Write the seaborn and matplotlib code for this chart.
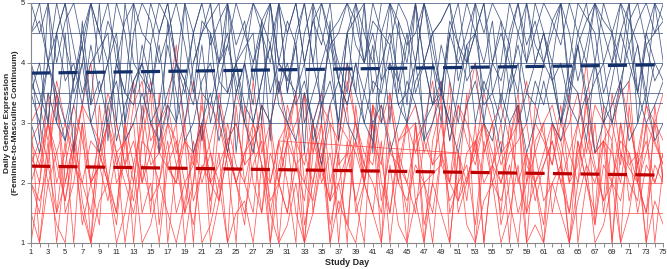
import numpy as np
import pandas as pd
import seaborn as sns
import matplotlib.pyplot as plt

sns.set_style("white")
plt.rcParams["font.family"] = ["Liberation Sans", "DejaVu Sans"]

days = list(range(1, 76))

# masculine-leaning participants (navy), one string per person, "-" = no entry
navy_rows = [
    "4.5 5 4 4.5 5 3.5 4 5 4.5 4 5 4.5 3.5 4 5 "
    "4.5 5 4 3.5 4.5 5 5 4 4.5 3.5 4 5 4.5 4 5 "
    "3.5 4.5 5 4 5 4.5 4 3.5 5 4.5 4 5 5 4.5 4 "
    "5 4 4.5 3.5 4.5 5 4 4.5 5 3.5 4 5 4.5 4 5 "
    "4.5 4 5 3.5 4.5 5 4 5 4.5 4 5 3.5 4.5 5 4",
    "3.5 4 3 4.5 3.7 4 3.3 4.3 3.5 4 4.5 3 3.7 4 3.5 "
    "4.3 3 4 3.7 4.5 3.5 3.3 4 4.3 3.7 3 4 4.5 3.5 4 "
    "3.7 4.3 3 3.5 4 4.5 3.7 3.3 4 3.5 4.3 3 4 3.7 4.5 "
    "3.5 4 3.3 4.3 3.7 3 4 4.5 3.5 4 3.7 4.3 3 3.5 4 "
    "4.5 3.7 4 3.3 4.3 3.5 4 3 3.7 4.5 4 3.5 4.3 3.7 4",
    "3 2.5 3.5 3 2.7 3.3 4 3 2.5 3.3 3.7 2.7 3 3.5 3 "
    "2.7 3.3 3 3.7 2.5 3 3.5 2.7 3.3 4 3 2.5 3.3 3 3.7 "
    "3 2.7 3.5 3 2.3 3.3 3.7 3 2.7 3.5 3 3.3 2.5 3 3.7 "
    "3.3 2.7 3 3.5 3 2.5 3.3 3.7 3 2.7 3.5 3 3.3 2.5 3 "
    "3.7 3 2.7 3.3 3 3.5 2.5 3 3.3 3.7 2.7 3 3.5 2.7 3",
    "5 4.5 5 4 4.7 5 4.3 5 4.5 5 4 4.7 5 4.5 4.3 "
    "5 4.7 4 5 4.5 5 4.3 4.7 5 4 4.5 5 4.7 4.3 5 "
    "4.5 5 4 4.7 5 4.3 4.5 5 4.7 4 5 4.5 4.3 5 4.7 "
    "4 5 4.5 4.7 5 4.3 4 5 4.5 5 4.7 4.3 5 4 4.5 "
    "5 4.7 4.3 5 4.5 4 5 4.7 4.5 5 4.3 4.7 5 4.5 5",
    "4 - 3 4.5 5 - 3.5 4 - 4.5 3 5 4 - 3.5 "
    "4.5 5 - 3 4 4.5 - 5 3.5 4 - 4.5 3 5 4 "
    "- 3.5 4.5 5 - 4 3 4.5 - 5 3.5 4 4.5 - 3 "
    "4 5 - 3.5 4.5 4 - 5 3 4 4.5 - 3.5 5 4 "
    "4.5 - 3 4 5 - 4.5 3.5 4 - 5 3 4.5 4 -",
    "3.5 3 4 3.3 2.7 3.7 4.3 3 3.5 4 2.7 3.3 3.7 4 3 "
    "3.3 4.3 3.5 2.7 3 3.7 4 3.3 2.5 3.5 4 3 3.7 4.3 3.3 "
    "3 3.5 4 2.7 3.3 3.7 3 4.5 3.5 3 2.7 3.7 4 3.3 3.5 "
    "4 3 3.3 3.7 2.7 3.5 4.3 3 3.7 3.3 2.5 3.5 4 3 3.7 "
    "3.3 4 3 3.7 3.5 2.7 4 3.3 3 3.7 4.3 3.5 3 3.3 3.7",
    "4.5 4.7 4 5 4.3 3.7 4.5 5 4 4.7 4.3 3 4.5 5 4.7 "
    "4 4.5 5 4.3 3.5 4.7 4.5 4 5 4.3 4.7 3.7 4.5 5 4 "
    "4.7 4.3 5 4 3.3 4.5 4.7 5 4.3 4 4.5 3.7 5 4.7 4.3 "
    "4.5 5 4 3.5 4.7 4.3 5 4.5 4 4.7 3.3 4.5 5 4.3 4.7 "
    "4 4.5 5 3.7 4.3 4.7 5 4 4.5 3.5 4.7 5 4.3 4.5 4.7",
    "3.7 3.3 4 3.5 3 3.7 4.3 3.3 3.7 3 4 3.5 3.3 4.3 3.7 "
    "3 3.5 4 3.7 3.3 4.3 3 3.7 3.5 4 3.3 3 3.7 4.3 3.5 "
    "4 3.3 3.7 3 3.5 4.3 3.7 3.3 4 3 3.7 3.5 4.3 3.3 3 "
    "3.7 4 3.3 3.5 3 4.3 3.7 4 3.3 3.5 3 3.7 4.3 3.5 3.3 "
    "4 3.7 3 3.5 4.3 3.3 3.7 4 3 3.5 3.7 4.3 3.3 4 3.7",
    "4 2.7 5 3 4.5 2.5 4.7 3.3 5 2.7 4 3.5 5 3 4.3 "
    "2.5 4.7 3 5 3.7 2.7 4.5 3 5 2.5 4 3.3 4.7 2.7 5 "
    "3.5 4.3 2.5 5 3 4.7 2.7 4 3.5 5 2.5 4.5 3 4.7 3.3 "
    "5 2.7 4 3 4.5 - - - - - - - - - - "
    "- - - - - - - - - - - - - - -",
    "- - - - - - - - - - - - - - - "
    "- - - - 4 4.5 5 3.7 4.3 5 4.5 4 4.7 5 3.5 "
    "4.5 5 4 4.7 4.3 5 3.7 4.5 5 4 4.7 4.5 5 3.5 4.3 "
    "5 4 4.5 4.7 5 3.7 4.3 4.5 5 4 4.7 3.5 4.5 5 4.3 "
    "4 4.7 5 4.5 3.7 4.3 5 4.5 4 5 4.7 4.3 3.5 5 4.7",
]
navy_flat = [5, 4.5, 4, 3.5, 3.33, 3]

# feminine-leaning participants (red)
red_rows = [
    "2.5 2 3 2.3 1.7 2.7 2 1.5 2.5 3 2 2.3 1.7 2.7 2.5 "
    "2 3 2.3 1.5 2.7 2 2.5 1.7 3 2.3 2 2.7 1.5 2.5 2 "
    "2.7 2.3 1.7 3 2 2.5 1.5 2.3 2.7 2 3 1.7 2.5 2.3 2 "
    "1.5 2.7 2.3 3 2 1.7 2.5 2.7 2 2.3 1.5 3 2 2.5 1.7 "
    "2.3 2.7 2 1.5 2.5 3 2.3 1.7 2 2.7 2.5 1.5 2.3 2 2.5",
    "3 1 2.5 3.5 1.5 2 3 1 3.3 2 1.5 3 1 2.7 3.5 "
    "1.3 2.5 3 1 2 3.5 1.5 3 2.3 1 3.3 2 1.5 3 1 "
    "2.7 3.5 1.3 2 3 1 2.5 3.3 1.5 2 3 1 3.5 2.3 1.5 "
    "3 1 2.7 3.3 1.5 2 3.5 1 2.5 3 1.3 2 3.3 1 2.7 "
    "3 1.5 2.3 3.5 1 2 3 1.5 2.7 1 3.3 2 1.5 3 2",
    "3 3.3 2.7 3.7 3 2.5 3.3 3 2.7 3.5 3 2.3 3.3 3.7 2.7 "
    "3 3.3 2.5 3 3.7 2.7 3.3 3 2.5 3.5 3 2.7 3.3 3 3.7 "
    "2.7 3 3.5 2.5 3.3 3 2.7 3.7 3 2.3 3.3 3 3.5 2.7 3 "
    "3.3 2.5 3 3.7 2.7 3.3 3 2.5 3.5 3 3.3 2.7 3 3.7 2.5 "
    "3 3.3 2.7 3 3.5 2.5 3.3 3 2.7 3.7 3 2.3 3.3 3 2.7",
    "1.5 1 2 1.3 1 2.5 1.5 1 1.7 2 1 1.5 2.3 1 1.3 "
    "2 1.5 1 1.7 2.5 1 1.3 2 1 1.5 1.7 1 2.3 1.5 1 "
    "1.3 2 1 1.5 2.5 1 1.7 1.3 1 2 1.5 1 2.3 1.3 1 "
    "1.7 1 2 1.5 1 2.5 1.3 1 1.7 2 1 1.5 2.3 1 1.3 "
    "1 2 1.5 1 1.7 2.3 1 1.3 2 1 1.5 2.5 1 1.7 1.3",
    "2.7 2.3 3 2 2.5 3.3 2.7 2 2.3 3 2.5 2.7 2 3.3 2.3 "
    "2.5 3 2.7 2 2.3 3.3 2.5 2 2.7 3 2.3 2.5 3.3 2 2.7 "
    "3 2.3 2.5 2 2.7 3.3 2.3 2.5 3 2 2.7 2.3 3.3 2.5 2 "
    "2.7 3 2.3 2.5 2 3.3 2.7 2.3 3 2 2.5 2.7 3.3 2.3 2 "
    "2.5 3 2.7 2 2.3 3.3 2.5 2.7 2 3 2.3 2.5 3.3 2.7 2.3",
    "2 - 3 2.5 1.7 - 3.3 2 2.7 - 1.5 3 2.3 - 3.7 "
    "2.5 - 2 3 1.7 - 2.7 3.3 - 2 2.5 - 3 1.5 2.3 "
    "- 3.5 2 2.7 - 1.7 3 - 2.5 2 3.3 - 1.5 2.7 - "
    "3 2 - 2.3 3.7 1.7 - 2.5 3 - 2 2.7 - 1.5 3.3 "
    "- 2.3 3 - 2 2.7 - 1.7 3.5 2.5 - 2 3 - 2.3",
    "2 1.5 2.7 1 2.3 3 1.7 1 2.5 2 1.3 2.7 3 1.5 2 "
    "1 2.3 2.7 1.5 2 3 1 1.7 2.5 2 1.3 3 2.3 1 2 "
    "2.7 1.5 1 2.5 3 1.7 2 1.3 2.7 2.3 - - - - - "
    "- - - - - - - - - - - - - - - "
    "- - - - - - - - - - - - - - -",
    "- - - - - - - - - - - - - - - "
    "- - - - - - - - - - - - - - 2 "
    "1.5 2.7 1 3 2.3 1.7 2.5 1 3.3 2 1.5 2.7 1 2.3 3 "
    "1.7 2 1 2.5 3.3 1.5 2 2.7 1 2.3 3 1.7 1 2.5 2 "
    "1.3 3 2.3 1 2.7 2 1.5 3.3 1 2.5 2 1.7 3 1 2.3",
    "2.7 3 2.3 3.5 2 2.7 3.3 4 2.5 3 2.3 2.7 3.7 2 3 "
    "2.5 3.3 4.3 2.7 2.3 3 2 3.5 2.7 3 2.3 3.7 2.5 3 2 "
    "3.3 2.7 2.3 3 3.5 2 2.7 4 3 2.5 2.3 3.3 2.7 2 3 "
    "2.5 3 3.7 2.3 2 2.7 3.3 4 2.5 3 2.3 2.7 3.5 2 3 "
    "2.7 2.3 3.3 2 3 4 2.5 2.7 3 2.3 3.7 2 2.5 3 3.5",
    "2 1.7 2.3 1.5 2 2.7 1.3 2 2.3 1.7 2.5 2 1.5 2.3 1.7 "
    "2 2.7 1.5 2 1.3 2.3 2 1.7 2.5 2 1.5 2.3 2.7 1.7 2 "
    "1.5 2.3 2 1.7 2.7 1.3 2 2.5 1.7 2.3 2 1.5 2.7 2 1.7 "
    "2.3 2 1.5 2.5 1.7 2 2.3 1.3 2.7 2 1.7 2.3 1.5 2 2.5 "
    "1.7 2 2.3 1.5 2.7 2 1.3 2.3 2 1.7 2.5 2 1.5 2.3 2",
    "1 2 3.5 1.5 2.7 1 3 2 1.3 3.3 2.5 1 2 3 1.5 "
    "3.5 1 2.3 2.7 1 3 1.7 2.5 1 3.3 2 1.5 3 1 2.7 "
    "2 1 3.5 1.5 2.3 3 1 2.7 1.7 1 3.3 2 1.5 2.5 1 "
    "3 1.3 2 3.5 1 2.5 1.7 3 1 2.3 2.7 1 3.3 1.5 2 "
    "1 3 2.5 1 2 3.5 1.3 2.7 1 3 1.7 2.3 1 3.3 2",
    "2.3 2.7 2 2.5 3 2.3 2 2.7 2.5 2 3 2.3 2.7 2 2.5 "
    "3 2.3 2 2.7 2.5 3 2 2.3 2.7 2 2.5 3 2.3 2 2.7 "
    "- - - - - - - - - - - - - - - "
    "- - - - - 2.5 2 2.7 3 2.3 2 2.5 2.7 3 2 "
    "2.3 2.7 2 2.5 3 2.3 2 2.7 2.5 2 3 2.3 2.7 2 2.5",
]
red_flat = [2.5, 2, 1.5]

# group trend lines (start day, end day)
trend_days = [1, 75]
navy_trend = [3.83, 3.97]
red_trend = [2.28, 2.13]


def to_long(rows, flats, tag):
    recs = []
    for i, row in enumerate(rows):
        vals = row.split()
        assert len(vals) == 75, (tag, i, len(vals))
        for d, v in zip(days, vals):
            if v != "-":
                recs.append((d, float(v), f"{tag}{i}"))
    for j, lvl in enumerate(flats):
        for d in days:
            recs.append((d, lvl, f"{tag}f{j}"))
    return pd.DataFrame(recs, columns=["day", "score", "pid"])


navy_df = to_long(navy_rows, navy_flat, "n")
red_df = to_long(red_rows, red_flat, "r")

fig = plt.figure(figsize=(6.67, 2.69), dpi=100)
ax = fig.add_axes([0.0465, 0.097, 0.948, 0.892])

sns.lineplot(data=red_df, x="day", y="score", units="pid", estimator=None,
             color="#ff3b3b", lw=0.55, alpha=0.85, legend=False, ax=ax)
sns.lineplot(data=navy_df, x="day", y="score", units="pid", estimator=None,
             color="#34497a", lw=0.55, alpha=0.9, legend=False, ax=ax)

dash = (0, (6, 2.6))
sns.lineplot(x=trend_days, y=red_trend, color="#c00000", lw=2.3,
             linestyle=dash, ax=ax)
sns.lineplot(x=trend_days, y=navy_trend, color="#13306b", lw=2.3,
             linestyle=dash, ax=ax)

ax.set_xlim(1, 75)
ax.set_ylim(1, 5)
ax.set_xticks(days, minor=True)
ax.set_xticks(range(1, 76, 2))
ax.set_yticks([1, 2, 3, 4, 5])
ax.tick_params(axis="both", which="both", direction="out", length=3,
               width=0.6, color="#777777", labelsize=5.5, pad=1.5)
ax.tick_params(axis="both", which="both", bottom=True, left=True)
for side in ["top", "right"]:
    ax.spines[side].set_visible(False)
for side in ["left", "bottom"]:
    ax.spines[side].set_color("#888888")
    ax.spines[side].set_linewidth(0.8)

ax.set_xlabel("Study Day", fontsize=6.5, fontweight="bold")
ax.set_ylabel("Daily Gender Expression\n(Feminine-to-Masculine Continuum)",
              fontsize=6, fontweight="bold", linespacing=1.3)
ax.xaxis.set_label_coords(0.5, -0.062)
ax.yaxis.set_label_coords(-0.019, 0.5)

fig.savefig("out.png", dpi=100)
